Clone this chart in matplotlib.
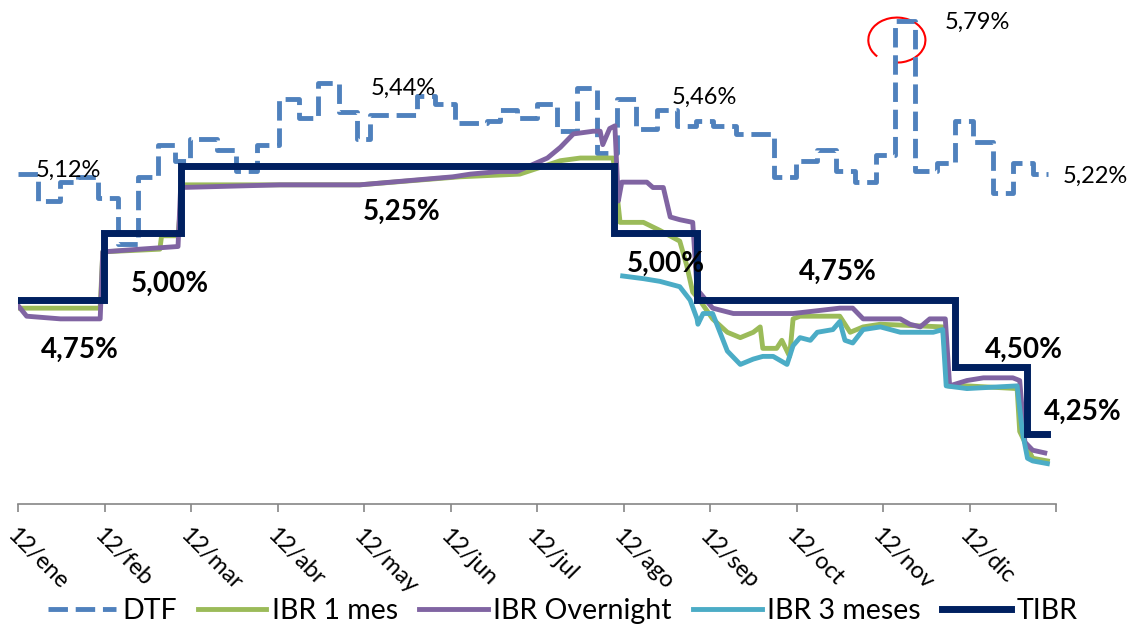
import numpy as np
import matplotlib.pyplot as plt
from matplotlib.patches import Arc

plt.rcParams['font.family'] = ['Lato', 'DejaVu Sans']

# x axis in months since 12/ene
months = ['12/ene', '12/feb', '12/mar', '12/abr', '12/may', '12/jun',
          '12/jul', '12/ago', '12/sep', '12/oct', '12/nov', '12/dic']

# DTF (weekly, step values)
dtf_x = [0.00, 0.23, 0.49, 0.69, 0.92, 1.16, 1.39, 1.62, 1.82, 1.99, 2.30, 2.52,
         2.76, 3.02, 3.25, 3.47, 3.71, 3.92, 4.07, 4.61, 4.82, 5.05, 5.42, 5.57,
         5.77, 6.00, 6.23, 6.46, 6.69, 6.92, 7.14, 7.39, 7.62, 7.84, 8.03, 8.30,
         8.74, 8.99, 9.24, 9.46, 9.68, 9.92, 10.14, 10.37, 10.62, 10.83, 11.04,
         11.27, 11.50, 11.73, 11.91]
dtf_y = [5.22, 5.12, 5.19, 5.21, 5.13, 4.96, 5.21, 5.33, 5.27, 5.35, 5.31, 5.23,
         5.33, 5.50, 5.43, 5.56, 5.45, 5.35, 5.44, 5.51, 5.48, 5.41, 5.42, 5.46,
         5.43, 5.48, 5.38, 5.54, 5.30, 5.50, 5.39, 5.46, 5.40, 5.42, 5.40, 5.37,
         5.21, 5.27, 5.31, 5.23, 5.19, 5.29, 5.79, 5.23, 5.26, 5.42, 5.34,
         5.15, 5.26, 5.22, 5.22]

# IBR 1 mes
ibr1_x = [0.00, 0.95, 0.98, 1.64, 1.66, 1.85, 1.90, 3.95, 5.11, 5.80, 6.27, 6.50,
          6.88, 6.96, 7.23, 7.42, 7.65, 7.73, 7.80, 7.88, 8.03, 8.20, 8.35, 8.50,
          8.58, 8.61, 8.77, 8.83, 8.92, 8.96, 9.04, 9.50, 9.62, 9.77, 9.97, 10.69,
          10.75, 10.97, 11.55, 11.58, 11.73, 11.90]
ibr1_y = [4.72, 4.72, 4.93, 4.94, 4.99, 4.99, 5.18, 5.18, 5.21, 5.22, 5.27, 5.28,
          5.28, 5.04, 5.04, 5.01, 4.97, 4.88, 4.78, 4.75, 4.68, 4.63, 4.61, 4.63,
          4.65, 4.57, 4.57, 4.60, 4.54, 4.68, 4.69, 4.69, 4.63, 4.65, 4.66, 4.65,
          4.43, 4.43, 4.42, 4.26, 4.16, 4.15]

# IBR Overnight
ibron_x = [0.00, 0.10, 0.49, 0.95, 0.98, 1.41, 1.85, 1.88, 3.03, 3.95, 5.03, 5.23,
           5.57, 5.77, 6.12, 6.27, 6.42, 6.65, 6.73, 6.76, 6.84, 6.90, 6.94, 6.98,
           7.27, 7.34, 7.46, 7.54, 7.65, 7.80, 7.85, 8.03, 8.27, 8.58, 8.96, 9.50,
           9.65, 9.77, 10.20, 10.31, 10.43, 10.54, 10.72, 10.77, 10.97, 11.16,
           11.50, 11.58, 11.64, 11.73, 11.87]
ibron_y = [4.73, 4.69, 4.68, 4.68, 4.93, 4.94, 4.95, 5.17, 5.18, 5.18, 5.21, 5.22,
           5.23, 5.23, 5.28, 5.32, 5.37, 5.38, 5.38, 5.33, 5.39, 5.40, 5.12, 5.19,
           5.19, 5.17, 5.17, 5.06, 5.05, 5.04, 4.79, 4.72, 4.70, 4.70, 4.70, 4.72,
           4.72, 4.68, 4.68, 4.66, 4.65, 4.68, 4.68, 4.43, 4.45, 4.46,
           4.46, 4.45, 4.22, 4.19, 4.18]

# IBR 3 meses
ibr3_x = [6.99, 7.23, 7.42, 7.65, 7.77, 7.85, 7.86, 7.92, 8.03, 8.20, 8.35, 8.50,
          8.61, 8.73, 8.89, 8.96, 9.04, 9.16, 9.24, 9.42, 9.50, 9.56, 9.65, 9.77,
          9.97, 10.20, 10.58, 10.69, 10.73, 10.97, 11.55, 11.61, 11.67, 11.73, 11.90]
ibr3_y = [4.84, 4.83, 4.82, 4.80, 4.75, 4.68, 4.66, 4.70, 4.70, 4.56, 4.51, 4.53,
          4.54, 4.54, 4.51, 4.58, 4.61, 4.60, 4.63, 4.64, 4.67, 4.60, 4.59, 4.64,
          4.65, 4.63, 4.63, 4.64, 4.43, 4.42, 4.43, 4.26, 4.16, 4.15, 4.14]

# TIBR (policy rate, steps)
tibr_x = [0.00, 0.99, 1.88, 6.89, 7.85, 10.83, 11.66, 11.90]
tibr_y = [4.75, 5.00, 5.25, 5.00, 4.75, 4.50, 4.25, 4.25]

# annotations: (text, x, y)
dtf_labels = [('5,12%', 0.58, 5.235), ('5,44%', 4.45, 5.54), ('5,46%', 7.94, 5.507),
              ('5,79%', 11.09, 5.787), ('5,22%', 12.45, 5.213)]
tibr_labels = [('4,75%', 0.72, 4.563), ('5,00%', 1.76, 4.81), ('5,25%', 4.44, 5.078),
               ('5,00%', 7.49, 4.884), ('4,75%', 9.48, 4.854), ('4,50%', 11.63, 4.563),
               ('4,25%', 12.31, 4.332)]

fig = plt.figure(figsize=(11.32, 6.29), dpi=100)
ax = fig.add_axes([0.0159, 0.199, 0.917, 0.785])

ax.plot(dtf_x, dtf_y, drawstyle='steps-post', color='#4F81BD', lw=3.5,
        linestyle=(0, (4, 1.6)), label='DTF')
ax.plot(ibr1_x, ibr1_y, color='#9BBB59', lw=3.5, label='IBR 1 mes')
ax.plot(ibron_x, ibron_y, color='#8064A2', lw=3.5, label='IBR Overnight')
ax.plot(ibr3_x, ibr3_y, color='#4BACC6', lw=3.5, label='IBR 3 meses')
ax.plot(tibr_x, tibr_y, drawstyle='steps-post', color='#002060', lw=5,
        label='TIBR', solid_joinstyle='miter')

for txt, x, y in dtf_labels:
    ax.text(x, y, txt, fontsize=17, ha='center', va='center', clip_on=False)
for txt, x, y in tibr_labels:
    ax.text(x, y, txt, fontsize=20, fontweight='bold', ha='center', va='center',
            clip_on=False)

# red circle around the DTF peak
ax.add_patch(Arc((10.16, 5.72), 0.66, 0.168, theta1=245, theta2=555,
                 color='red', lw=1.5, clip_on=False))

ax.set_xlim(0, 12)
ax.set_ylim(3.99, 5.832)
ax.set_xticks(np.arange(13))
ax.set_xticklabels(months + [''], rotation=-45, ha='left', va='top',
                   rotation_mode='anchor', fontsize=17)
ax.set_yticks([])
for s in ['top', 'left', 'right']:
    ax.spines[s].set_visible(False)
ax.spines['bottom'].set_color('#868686')
ax.spines['bottom'].set_linewidth(1.2)
ax.tick_params(axis='x', direction='out', length=6, width=1.2, color='#868686', pad=9)

fig.legend(loc='center', bbox_to_anchor=(0.497, 0.029), ncol=5, frameon=False,
           fontsize=20.5, handlelength=2.4, handletextpad=0.2, columnspacing=0.75)

fig.savefig('out.png', dpi=100)
